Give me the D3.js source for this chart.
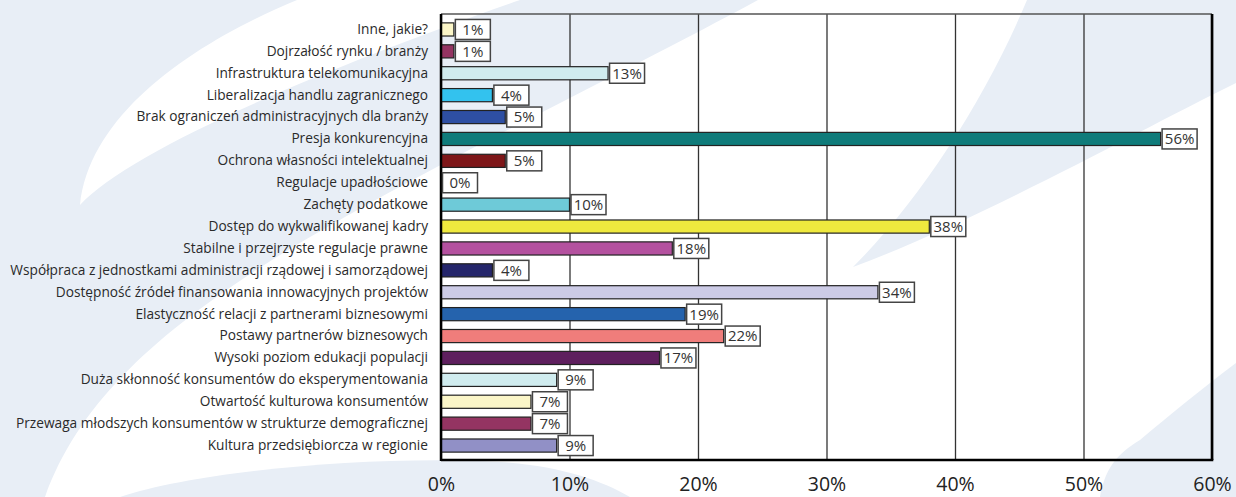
<!DOCTYPE html>
<html>
<head>
<meta charset="utf-8">
<script src="https://cdn.jsdelivr.net/npm/d3@7/dist/d3.min.js"></script>
<style>
  html, body { margin: 0; padding: 0; background: #ffffff; }
  svg { display: block; }
</style>
</head>
<body>
<script>
const categories = [
  "Inne, jakie?",
  "Dojrzałość rynku / branży",
  "Infrastruktura telekomunikacyjna",
  "Liberalizacja handlu zagranicznego",
  "Brak ograniczeń administracyjnych dla branży",
  "Presja konkurencyjna",
  "Ochrona własności intelektualnej",
  "Regulacje upadłościowe",
  "Zachęty podatkowe",
  "Dostęp do wykwalifikowanej kadry",
  "Stabilne i przejrzyste regulacje prawne",
  "Współpraca z jednostkami administracji rządowej i samorządowej",
  "Dostępność źródeł finansowania innowacyjnych projektów",
  "Elastyczność relacji z partnerami biznesowymi",
  "Postawy partnerów biznesowych",
  "Wysoki poziom edukacji populacji",
  "Duża skłonność konsumentów do eksperymentowania",
  "Otwartość kulturowa konsumentów",
  "Przewaga młodszych konsumentów w strukturze demograficznej",
  "Kultura przedsiębiorcza w regionie"
];
const values = [1, 1, 13, 4, 5, 56, 5, 0, 10, 38, 18, 4, 34, 19, 22, 17, 9, 7, 7, 9];
const barColors = [
  "#fbf6c8", "#943462", "#d0ecef", "#33c2ee", "#2e4fa3", "#0f7b7a", "#7e1719",
  "#ffffff", "#6ecad8", "#efe93e", "#b4519f", "#25266b", "#cccbe6", "#2563ad",
  "#f07d7b", "#5e1f5e", "#d0ecef", "#fbf6c8", "#943462", "#9190c6"
];
const tickValues = [0, 10, 20, 30, 40, 50, 60];
const tickLabels = ["0%", "10%", "20%", "30%", "40%", "50%", "60%"];

(function () {
const W = 1236, H = 497;
const pL = 441, pR = 1212, pT = 14, pB = 460;
const bg = "#e8eef6";

const svg = d3.select("body").append("svg")
  .attr("width", W).attr("height", H);

svg.append("rect").attr("width", W).attr("height", H).attr("fill", "#ffffff");

// decorative background swooshes (light) and cut-outs (white)
const swooshes = [
  { d: "M0,0 L758,0 C620,75 420,170 280,255 C160,330 80,400 45,497 L0,497 Z", c: bg },
  { d: "M297,0 C200,40 90,110 80,205 C130,150 320,70 520,0 Z", c: "#ffffff" },
  { d: "M120,497 C200,470 380,455 500,462 C560,466 600,480 630,497 Z", c: bg },
  { d: "M1027,0 L1236,0 L1236,83 C1140,130 980,220 853,267 C920,200 985,100 1027,0 Z", c: bg },
  { d: "M1100,497 C1105,470 1115,455 1140,440 C1170,415 1200,390 1236,363 L1236,497 Z", c: bg }
];
svg.append("g").selectAll("path").data(swooshes).join("path")
  .attr("d", s => s.d).attr("fill", s => s.c);

const x = d3.scaleLinear().domain([0, 60]).range([pL, pR]);
const y = d3.scaleBand().domain(categories).range([18.5, 456.5])
  .paddingInner(0.4).paddingOuter(0.2);

// x axis with gridlines
const xAxis = svg.append("g")
  .attr("transform", `translate(0,${pB})`)
  .call(d3.axisBottom(x).tickValues(tickValues)
    .tickFormat((d, i) => tickLabels[i])
    .tickSize(-(pB - pT)).tickPadding(17));
xAxis.select(".domain").remove();
xAxis.selectAll(".tick line").attr("stroke", "#333").attr("stroke-width", 1.3);
xAxis.selectAll(".tick text")
  .attr("font-family", "'Open Sans', sans-serif")
  .attr("font-size", 19.5).attr("fill", "#222");

// y axis labels
const yAxis = svg.append("g")
  .attr("transform", `translate(${pL},0)`)
  .call(d3.axisLeft(y).tickSize(0).tickPadding(13));
yAxis.select(".domain").remove();
yAxis.selectAll(".tick text")
  .attr("font-family", "'Open Sans', sans-serif")
  .attr("font-size", 13.7).attr("fill", "#2a2a2a");

// bars
svg.append("g").selectAll("rect").data(categories).join("rect")
  .attr("x", x(0))
  .attr("y", d => y(d))
  .attr("width", (d, i) => x(values[i]) - x(0))
  .attr("height", y.bandwidth())
  .attr("fill", (d, i) => barColors[i])
  .attr("stroke", "#222")
  .attr("stroke-width", (d, i) => values[i] > 0 ? 1.2 : 0);

// frame
const frame = svg.append("g");
frame.append("line").attr("x1", pL).attr("x2", pR).attr("y1", pT).attr("y2", pT)
  .attr("stroke", "#555").attr("stroke-width", 1.5);
frame.append("line").attr("x1", pR).attr("x2", pR).attr("y1", pT).attr("y2", pB)
  .attr("stroke", "#000").attr("stroke-width", 2.6);
frame.append("line").attr("x1", pL).attr("x2", pL).attr("y1", pT).attr("y2", pB + 1)
  .attr("stroke", "#000").attr("stroke-width", 2.5);
frame.append("line").attr("x1", pL).attr("x2", pR + 1.3).attr("y1", pB).attr("y2", pB)
  .attr("stroke", "#000").attr("stroke-width", 2.4);

// value labels
const lab = svg.append("g").selectAll("g").data(categories).join("g")
  .attr("transform", (d, i) => `translate(${x(values[i]) + 1.5},${y(d) + y.bandwidth() / 2})`);
lab.append("rect")
  .attr("x", 0).attr("y", -10).attr("width", 35).attr("height", 20)
  .attr("fill", "#fff").attr("stroke", "#444").attr("stroke-width", 1.5);
lab.append("text")
  .attr("x", 17.5).attr("y", 0).attr("dy", "0.36em")
  .attr("text-anchor", "middle")
  .attr("font-family", "'Open Sans', sans-serif")
  .attr("font-size", 15).attr("fill", "#333")
  .text((d, i) => values[i] + "%");
})();
</script>
</body>
</html>
